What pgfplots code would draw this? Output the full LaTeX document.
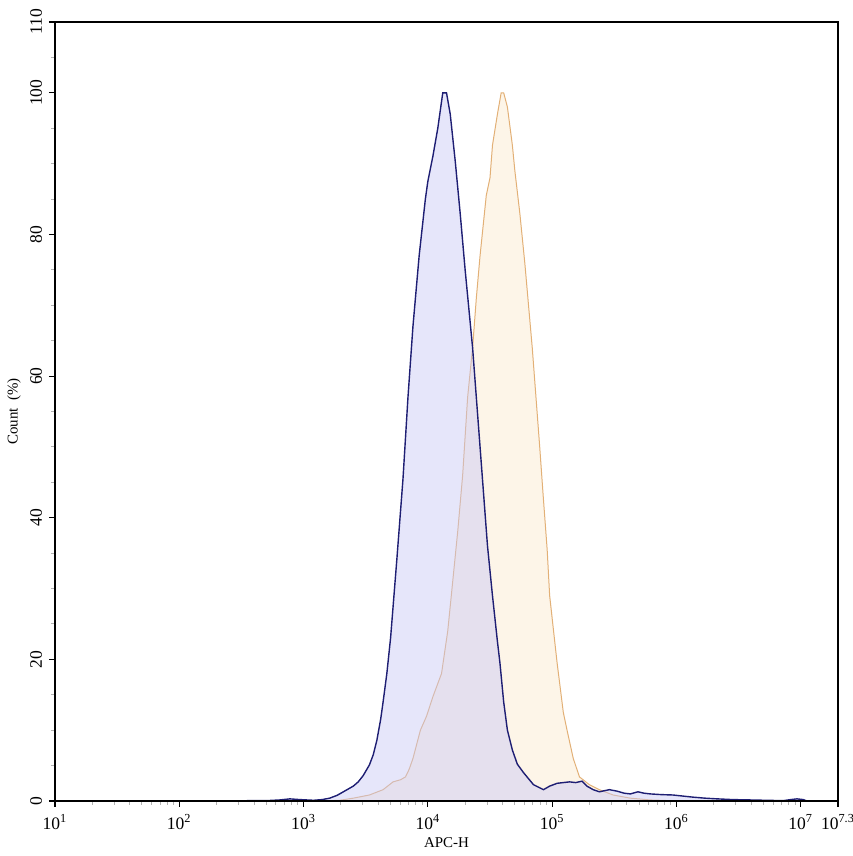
\documentclass[border=0pt]{standalone}
\usepackage{pgfplots}
\usepackage{pgfplotstable}
\pgfplotsset{compat=1.18}
\usepackage{fontspec}
\setmainfont{Liberation Serif}
\usetikzlibrary{calc}

\definecolor{bline}{RGB}{30,30,115}
\definecolor{bfill}{RGB}{200,200,245}
\definecolor{oline}{RGB}{226,176,118}
\definecolor{ofill}{RGB}{250,225,190}

\pgfplotstableread{
e v
2.40 0
2.57 0.05
2.70 0.05
2.81 0.15
2.89 0.3
2.97 0.2
3.08 0.1
3.15 0.2
3.21 0.4
3.27 0.8
3.32 1.3
3.40 2.1
3.44 2.7
3.48 3.6
3.53 5.1
3.56 6.5
3.59 8.6
3.62 11.5
3.64 14
3.67 18
3.70 23
3.75 34
3.80 45.5
3.84 57
3.88 67
3.93 77
3.98 85
4.00 87.5
4.04 91
4.08 95
4.12 100
4.15 100
4.18 97
4.22 90.4
4.26 83
4.30 75
4.36 64
4.42 50
4.48 36
4.52 29
4.56 22.5
4.58 19.5
4.61 14
4.64 10
4.68 7.2
4.72 5.2
4.77 4
4.85 2.3
4.93 1.6
4.98 2.1
5.04 2.5
5.14 2.7
5.19 2.6
5.24 2.8
5.28 2.1
5.33 1.6
5.38 1.3
5.46 1.6
5.52 1.4
5.58 1.1
5.63 1.0
5.69 1.3
5.74 1.1
5.79 1.0
5.88 0.9
5.97 0.85
6.05 0.7
6.13 0.55
6.23 0.4
6.33 0.3
6.45 0.2
6.59 0.15
6.72 0.1
6.86 0.05
6.92 0.2
6.97 0.3
7.02 0.2
7.05 0
7.10 0
}\bluedata

\pgfplotstableread{
e v
3.13 0
3.29 0.1
3.40 0.4
3.53 0.85
3.64 1.6
3.72 2.7
3.78 3.0
3.82 3.4
3.85 4.5
3.88 6
3.94 10
3.99 12
4.04 14.7
4.11 18
4.16 24
4.20 31
4.24 38
4.28 46
4.32 57
4.36 64
4.39 71
4.42 77
4.47 85.5
4.50 88
4.52 92.6
4.56 97
4.59 100
4.61 100
4.64 98
4.68 92.6
4.70 89
4.74 83
4.78 76
4.84 64
4.87 57
4.90 50
4.93 42.6
4.96 35.5
4.98 29
5.04 19.5
5.09 12.5
5.12 10
5.17 6
5.22 3.4
5.30 2.3
5.38 1.6
5.49 0.85
5.63 0.4
5.79 0.15
6.03 0
}\orangedata

\begin{document}
\begin{tikzpicture}
\begin{axis}[
  scale only axis,
  width=391.5bp, height=389.5bp,
  xmin=1, xmax=7.3, ymin=0, ymax=110,
  xtick={1,2,3,4,5,6,7,7.3},
  xticklabels={10\textsuperscript{1},10\textsuperscript{2},10\textsuperscript{3},10\textsuperscript{4},10\textsuperscript{5},10\textsuperscript{6},10\textsuperscript{7},10\textsuperscript{7.3}},
  minor xtick={1.30103,1.47712,1.60206,1.69897,1.77815,1.84510,1.90309,1.95424,
               2.30103,2.47712,2.60206,2.69897,2.77815,2.84510,2.90309,2.95424,
               3.30103,3.47712,3.60206,3.69897,3.77815,3.84510,3.90309,3.95424,
               4.30103,4.47712,4.60206,4.69897,4.77815,4.84510,4.90309,4.95424,
               5.30103,5.47712,5.60206,5.69897,5.77815,5.84510,5.90309,5.95424,
               6.30103,6.47712,6.60206,6.69897,6.77815,6.84510,6.90309,6.95424},
  ytick={0,20,40,60,80,100,110},
  yticklabels={0,20,40,60,80,100,110},
  minor ytick={5,10,...,105},
  tick align=outside,
  xtick pos=bottom, ytick pos=left,
  major tick length=3bp, minor tick length=2bp,
  every tick/.style={black, line width=0.55bp},
  minor tick style={gray!60, line width=0.5bp},
  axis line style={line width=0.6bp},
  tick label style={font=\fontsize{8.8}{10}\selectfont},
  label style={font=\fontsize{7.5}{9}\selectfont},
  yticklabel style={rotate=90, anchor=south},
  xlabel={APC-H},
  ylabel={Count\ \ (\%)},
  xlabel style={at={(axis description cs:0.5,-0.0539)}, anchor=center},
  ylabel style={at={(axis description cs:-0.0524,0.5)}, anchor=center},
  axis on top,
]
\addplot[draw=none, fill=ofill, fill opacity=0.35] table[x=e, y=v] {\orangedata} \closedcycle;
\addplot[oline, line width=0.5bp] table[x=e, y=v] {\orangedata};
\addplot[draw=none, fill=bfill, fill opacity=0.45] table[x=e, y=v] {\bluedata} \closedcycle;
\addplot[bline, line width=0.7bp] table[x=e, y=v] {\bluedata};
\end{axis}
\pgfresetboundingbox
\path[use as bounding box] ($(current axis.south west)+(-27.5bp,-27.5bp)$) rectangle ($(current axis.north east)+(7.5bp,11bp)$);
\end{tikzpicture}
\end{document}
